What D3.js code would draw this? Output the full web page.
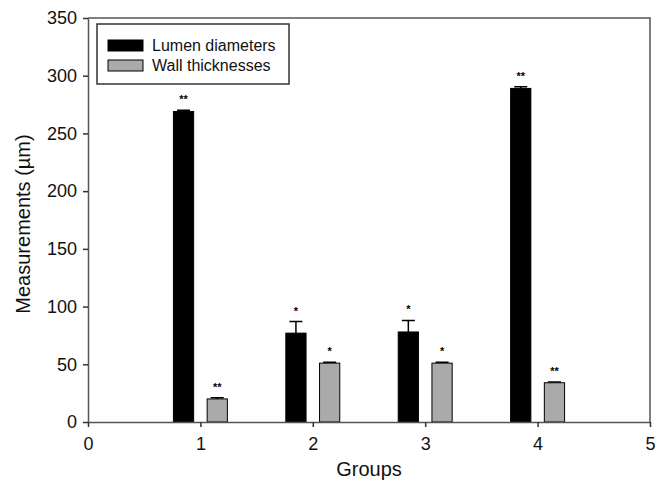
<!DOCTYPE html>
<html>
<head>
<meta charset="utf-8">
<script src="https://cdn.jsdelivr.net/npm/d3@7"></script>
<style>
  body { margin: 0; background: #fff; }
  text { font-family: "Liberation Sans", Arial, sans-serif; }
</style>
</head>
<body>
<script>
/* Define data. */
const groups = [1, 2, 3, 4]
const lumen = [269, 77, 78, 289]
const lumenErr = [1, 10, 10, 1.5]
const lumenSig = ["**", "*", "*", "**"]
const wall = [20, 51, 51, 34]
const wallErr = [1, 0.7, 0.7, 0.7]
const wallSig = ["**", "*", "*", "**"]
const xTicks = [0, 1, 2, 3, 4, 5]
const yTicks = [0, 50, 100, 150, 200, 250, 300, 350]

/* Define svg-size. */
const width = 663
const height = 482
const margin = { left: 88, right: 13, top: 18, bottom: 60 }

/* Create svg-element. */
const svg = d3.select("body")
  .append("svg")
  .attr("width", width)
  .attr("height", height)

/* Define scales. */
const x = d3.scaleLinear()
  .domain([0, 5])
  .range([margin.left, width - margin.right])

const y = d3.scaleLinear()
  .domain([0, 350])
  .range([height - margin.bottom, margin.top])

const barW = 0.18
const offset = 0.15

/* Frame (top and right). */
svg.append("path")
  .attr("d", `M${x(0)},${y(350)}H${x(5)}V${y(0)}`)
  .attr("fill", "none")
  .attr("stroke", "#555")
  .attr("stroke-width", 1.5)

/* Define series. */
const series = [
  { vals: lumen, errs: lumenErr, sig: lumenSig, dx: -offset, fill: "#000" },
  { vals: wall, errs: wallErr, sig: wallSig, dx: offset, fill: "#aaa" }
]

series.forEach(s => {
  const g = svg.append("g")

  // error bars
  g.selectAll(".err")
    .data(groups)
    .enter()
    .append("path")
    .attr("d", (d, i) => {
      const cx = x(d + s.dx)
      const y0 = y(s.vals[i])
      const y1 = y(s.vals[i] + s.errs[i])
      return `M${cx},${y0}V${y1}M${cx - 6.5},${y1}H${cx + 6.5}`
    })
    .attr("stroke", "#000")
    .attr("stroke-width", 1.5)
    .attr("fill", "none")

  // bars
  g.selectAll("rect")
    .data(groups)
    .enter()
    .append("rect")
    .attr("x", d => x(d + s.dx - barW / 2))
    .attr("width", d => x(barW) - x(0))
    .attr("y", (d, i) => y(s.vals[i]))
    .attr("height", (d, i) => y(0) - y(s.vals[i]))
    .attr("fill", s.fill)
    .attr("stroke", "#000")
    .attr("stroke-width", 1)

  // significance marks
  g.selectAll("text")
    .data(groups)
    .enter()
    .append("text")
    .attr("x", d => x(d + s.dx))
    .attr("y", (d, i) => y(s.vals[i] + s.errs[i]) - 7)
    .attr("text-anchor", "middle")
    .attr("font-size", 11)
    .attr("font-weight", "bold")
    .text((d, i) => s.sig[i])
})

/* Axes. */
const xAxis = svg.append("g")
  .attr("transform", `translate(0,${y(0)})`)
  .call(d3.axisBottom(x).tickValues(xTicks).tickFormat(d3.format("d"))
    .tickSize(5).tickSizeOuter(0).tickPadding(10))

const yAxis = svg.append("g")
  .attr("transform", `translate(${x(0)},0)`)
  .call(d3.axisLeft(y).tickValues(yTicks).tickFormat(d3.format("d"))
    .tickSize(5).tickSizeOuter(0).tickPadding(6))

;[xAxis, yAxis].forEach(a => {
  a.select(".domain").attr("stroke", "#555").attr("stroke-width", 1.5)
  a.selectAll(".tick line").attr("stroke", "#333").attr("stroke-width", 1.5)
  a.selectAll(".tick text")
    .attr("font-size", 18)
    .attr("fill", "#111")
    .style("font-family", "'Liberation Sans', Arial, sans-serif")
})

/* Axis titles. */
svg.append("text")
  .attr("x", x(2.5))
  .attr("y", 476)
  .attr("text-anchor", "middle")
  .attr("font-size", 20)
  .attr("fill", "#111")
  .text("Groups")

svg.append("text")
  .attr("transform", `translate(30,${(y(0) + y(350)) / 2 + 4}) rotate(-90)`)
  .attr("text-anchor", "middle")
  .attr("font-size", 20)
  .attr("fill", "#111")
  .text("Measurements (\u00b5m)")

/* Legend. */
const legend = svg.append("g")
legend.append("rect")
  .attr("x", 97)
  .attr("y", 24)
  .attr("width", 192)
  .attr("height", 60)
  .attr("fill", "#fff")
  .attr("stroke", "#333")
  .attr("stroke-width", 1.5)

const legendLabels = ["Lumen diameters", "Wall thicknesses"]
const legendFills = ["#000", "#aaa"]

legend.selectAll(".sw")
  .data(legendLabels)
  .enter()
  .append("rect")
  .attr("x", 108)
  .attr("y", (d, i) => 40 + i * 20)
  .attr("width", 35)
  .attr("height", 11)
  .attr("fill", (d, i) => legendFills[i])
  .attr("stroke", "#000")
  .attr("stroke-width", 1)

legend.selectAll(".lt")
  .data(legendLabels)
  .enter()
  .append("text")
  .attr("x", 152)
  .attr("y", (d, i) => 51 + i * 20)
  .attr("font-size", 16)
  .attr("fill", "#111")
  .text(d => d)
</script>
</body>
</html>
